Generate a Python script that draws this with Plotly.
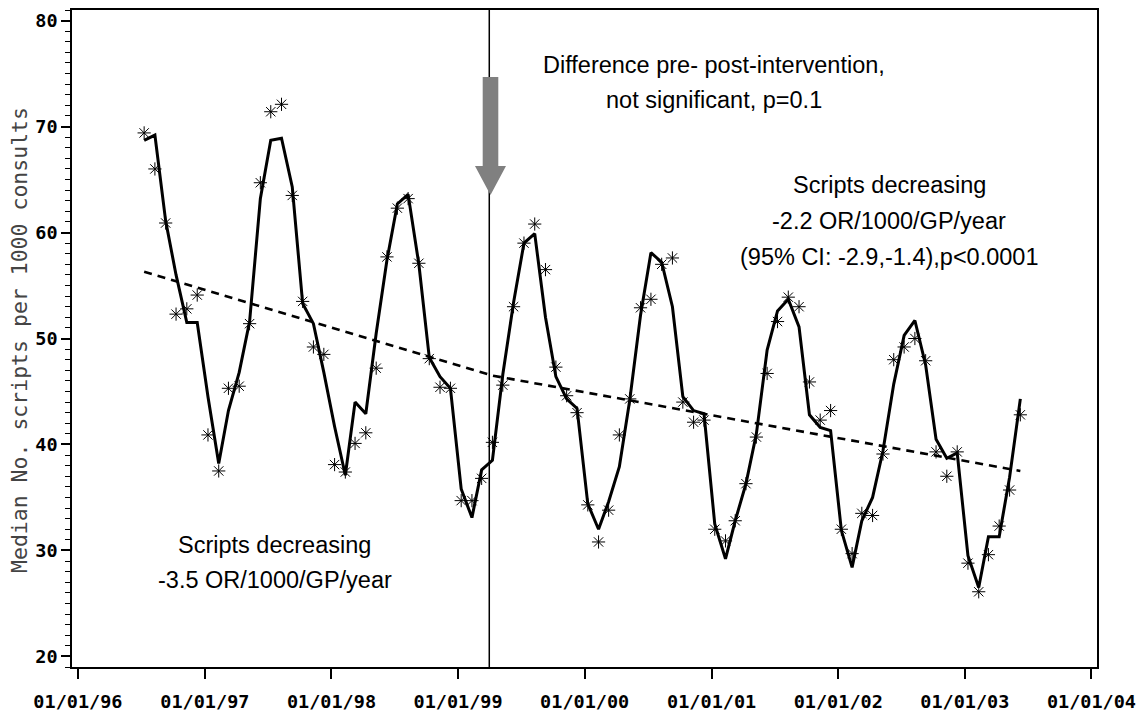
import pandas as pd
import plotly.graph_objects as go

# ---- data -------------------------------------------------------------
# Monthly observations, July 1996 to June 2003
first_month = "1996-07-01"
n_months = 84

observed = [
    69.4, 66.0, 60.9, 52.3, 52.8, 54.1,                                  # 1996 Jul-Dec
    40.9, 37.5, 45.3, 45.5, 51.4, 64.7, 71.4, 72.1, 63.5, 53.5, 49.2, 48.5,  # 1997
    38.1, 37.4, 40.1, 41.1, 47.2, 57.7, 62.3, 63.2, 57.1, 48.1, 45.4, 45.3,  # 1998
    34.7, 34.7, 36.8, 40.2, 45.6, 53.0, 59.0, 60.8, 56.5, 47.3, 44.6, 43.0,  # 1999
    34.3, 30.8, 33.8, 40.9, 44.3, 52.9, 53.7, 57.0, 57.6, 44.0, 42.1, 42.3,  # 2000
    32.0, 30.9, 32.8, 36.3, 40.7, 46.7, 51.6, 53.9, 53.0, 45.9, 42.3, 43.2,  # 2001
    32.0, 29.7, 33.5, 33.3, 39.1, 48.0, 49.2, 50.0, 47.9, 39.3, 37.0, 39.3,  # 2002
    28.8, 26.1, 29.6, 32.3, 35.7, 42.8,                                  # 2003 Jan-Jun
]

fitted = [
    68.7, 69.2, 61.1, 56.0, 51.5, 51.5,
    44.5, 38.2, 43.2, 46.8, 51.6, 63.2, 68.7, 68.9, 64.3, 53.3, 51.4, 46.8,
    41.7, 37.1, 44.0, 42.9, 50.5, 57.4, 62.7, 63.6, 57.0, 48.2, 46.4, 45.3,
    35.8, 33.1, 37.6, 38.5, 46.6, 53.4, 59.0, 59.9, 52.0, 46.4, 44.3, 43.4,
    34.4, 32.0, 34.6, 37.9, 44.2, 52.2, 58.1, 57.2, 53.0, 44.5, 43.2, 42.9,
    32.5, 29.2, 32.8, 36.3, 41.0, 48.9, 52.6, 53.7, 51.1, 42.8, 41.6, 41.3,
    31.9, 28.4, 32.8, 35.0, 39.4, 45.7, 50.3, 51.7, 47.5, 40.5, 38.7, 39.2,
    29.5, 26.5, 31.3, 31.3, 36.9, 44.3,
]

# Segmented linear trend: start / end of the pre- and post-intervention periods
trend_month_index = [0, 32, 33, 83]
trend_values = [56.3, 46.8, 46.5, 37.5]

intervention_date = "1999-04-01"

year_ticks = ["1996-01-01", "1997-01-01", "1998-01-01", "1999-01-01", "2000-01-01",
              "2001-01-01", "2002-01-01", "2003-01-01", "2004-01-01"]
year_tick_labels = ["01/01/96", "01/01/97", "01/01/98", "01/01/99", "01/01/00",
                    "01/01/01", "01/01/02", "01/01/03", "01/01/04"]
y_ticks = [20, 30, 40, 50, 60, 70, 80]

y_title = "Median No. scripts per 1000 consults"
note_top = ["Difference pre- post-intervention,", "not significant, p=0.1"]
note_right = ["Scripts decreasing", "-2.2 OR/1000/GP/year", "(95% CI: -2.9,-1.4),p<0.0001"]
note_left = ["Scripts decreasing", "-3.5 OR/1000/GP/year"]

# ---- layout geometry ---------------------------------------------------
W, H = 1147, 711
ML, MR, MT, MB = 72, 50, 10, 44
PW, PH = W - ML - MR, H - MT - MB


def px(x):
    return (x - ML) / PW


def py(y):
    return 1 - (y - MT) / PH


months = pd.date_range(first_month, periods=n_months, freq="MS") + pd.Timedelta(days=9)
trend_dates = [months[i] for i in trend_month_index]

fig = go.Figure()

fig.add_trace(go.Scatter(
    x=trend_dates, y=trend_values, mode="lines",
    line=dict(color="black", width=2.6, dash="8px,6px"),
    hoverinfo="skip", showlegend=False,
))
fig.add_trace(go.Scatter(
    x=months, y=fitted, mode="lines",
    line=dict(color="black", width=3),
    showlegend=False,
))
fig.add_trace(go.Scatter(
    x=months, y=observed, mode="markers",
    marker=dict(symbol="asterisk-open", size=11, color="black",
                line=dict(color="#222222", width=1)),
    showlegend=False,
))

# intervention marker line and arrow
fig.add_shape(type="line", xref="x", yref="paper",
              x0=intervention_date, x1=intervention_date, y0=0, y1=1,
              line=dict(color="black", width=1.5), layer="above")

arrow_px = [(482.7, 77), (498.3, 77), (498.3, 166), (506, 166),
            (490.5, 195), (475, 166), (482.7, 166)]
path = "M " + " L ".join(f"{px(a):.5f},{py(b):.5f}" for a, b in arrow_px) + " Z"
fig.add_shape(type="path", xref="paper", yref="paper", path=path,
              fillcolor="#808080", line=dict(width=0), layer="above")

text_font = dict(family="Liberation Sans, Arial, sans-serif", size=23.5, color="black")


def note(lines, cx, ys):
    for t, y in zip(lines, ys):
        fig.add_annotation(text=t, xref="paper", yref="paper",
                           x=px(cx), y=py(y), xanchor="center", yanchor="middle",
                           showarrow=False, font=text_font)


note(note_top, 714, [65, 100])
note(note_right, 889, [185, 221, 257])
note(note_left, 274.5, [545, 580])

fig.add_annotation(text=y_title, xref="paper", yref="paper",
                   x=px(19), y=py(340), xanchor="center", yanchor="middle",
                   textangle=-90, showarrow=False,
                   font=dict(family="DejaVu Sans Mono, monospace", size=21.5, color="#444444"))

tick_font = dict(family="DejaVu Sans Mono, monospace", size=18.5, color="black", weight="bold")

fig.update_xaxes(
    type="date",
    range=["1995-12-15", "2004-01-17"],
    tickvals=year_ticks, ticktext=year_tick_labels,
    ticks="outside", ticklen=10, tickwidth=2, tickcolor="black",
    showline=True, linecolor="black", linewidth=1.5, mirror=True,
    showgrid=False, zeroline=False, tickfont=tick_font,
    ticklabelstandoff=7, automargin=False,
)
fig.update_yaxes(
    range=[19.0, 81.0],
    tickvals=y_ticks,
    ticks="outside", ticklen=9, tickwidth=1.5, tickcolor="black",
    minor=dict(dtick=1, ticks="outside", ticklen=5, tickwidth=1, tickcolor="black"),
    showline=True, linecolor="black", linewidth=1.5, mirror=True,
    showgrid=False, zeroline=False, tickfont=tick_font,
    automargin=False,
)

fig.update_layout(
    width=W, height=H,
    margin=dict(l=ML, r=MR, t=MT, b=MB),
    paper_bgcolor="white", plot_bgcolor="white",
    showlegend=False,
)

fig.write_html("out.html")
